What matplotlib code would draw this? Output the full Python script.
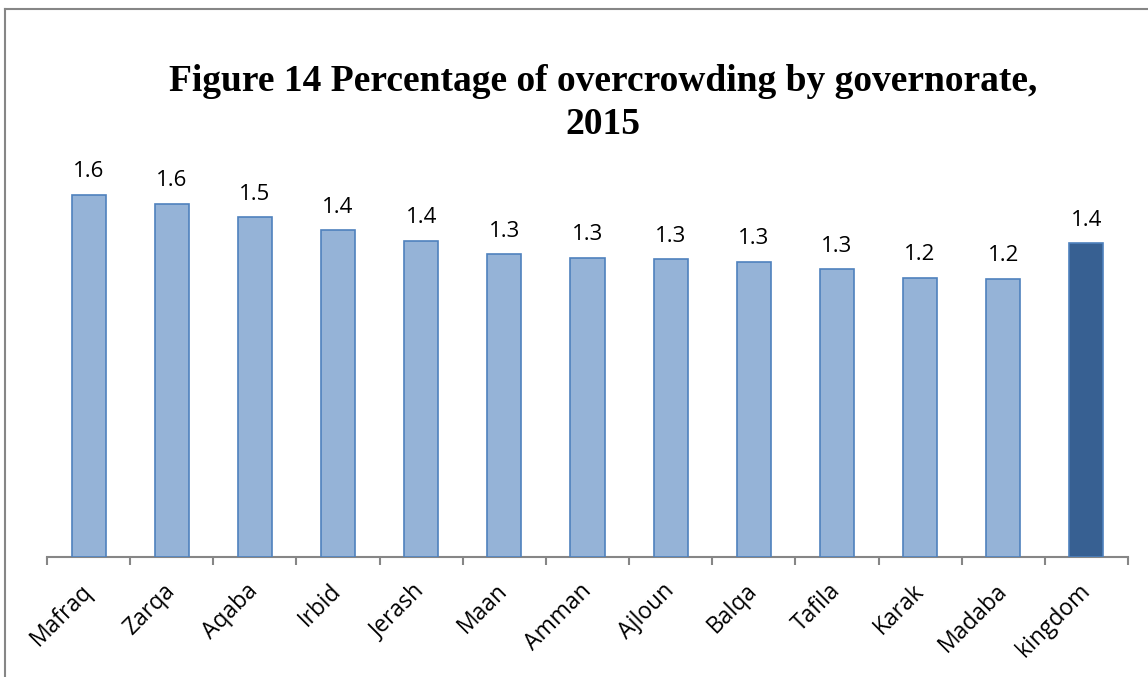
import matplotlib
matplotlib.use("Agg")
import matplotlib.pyplot as plt
from matplotlib.lines import Line2D
import numpy as np

categories = ["Mafraq", "Zarqa", "Aqaba", "Irbid", "Jerash", "Maan", "Amman",
              "Ajloun", "Balqa", "Tafila", "Karak", "Madaba", "kingdom"]
values = [1.586, 1.546, 1.489, 1.432, 1.384, 1.327, 1.310,
          1.305, 1.292, 1.261, 1.222, 1.218, 1.375]
labels = ["1.6", "1.6", "1.5", "1.4", "1.4", "1.3", "1.3",
          "1.3", "1.3", "1.3", "1.2", "1.2", "1.4"]
title = "Figure 14 Percentage of overcrowding by governorate,\n2015"

W, H = 1148, 677
fig = plt.figure(figsize=(W / 100, H / 100), dpi=100)
ax = fig.add_axes([47 / W, 1 - 557 / H, (1128 - 47) / W, (557 - 146) / H])

x = np.arange(len(categories))
fills = ["#95B3D7"] * (len(categories) - 1) + ["#376092"]
edges = ["#4F81BD"] * len(categories)
ax.bar(x, values, width=0.41, color=fills, edgecolor=edges, linewidth=1.2, zorder=3)

for xi, v, lab in zip(x, values, labels):
    ax.annotate(lab, (xi, v), xytext=(0, 9), textcoords="offset points",
                ha="center", va="bottom", fontsize=16, family="Open Sans", color="black")

ax.set_xlim(-0.5, len(categories) - 0.5)
ax.set_ylim(0, 1.8)
ax.set_yticks([])
for s in ["left", "right", "top"]:
    ax.spines[s].set_visible(False)
ax.spines["bottom"].set_color("#868686")
ax.spines["bottom"].set_linewidth(1.5)

ax.set_xticks(x)
ax.set_xticklabels(categories, rotation=45, ha="right", va="center",
                   rotation_mode="anchor", fontsize=16.5, family="Open Sans")
ax.tick_params(axis="x", which="major", length=0, pad=22)
ax.set_xticks(np.arange(-0.5, len(categories)), minor=True)
ax.tick_params(axis="x", which="minor", length=6, width=1.5, color="#868686", direction="out")

fig.text(603 / W, 1 - 64 / H, title, ha="center", va="top", fontsize=27,
         fontweight="bold", family="Liberation Serif", linespacing=1.3)

# outer frame (top and left edges)
fig.add_artist(Line2D([5 / W, 5 / W], [0, 1 - 9 / H], transform=fig.transFigure,
                      color="#868686", linewidth=1.5))
fig.add_artist(Line2D([5 / W, 1], [1 - 9 / H, 1 - 9 / H], transform=fig.transFigure,
                      color="#868686", linewidth=1.5))

fig.savefig("out.png", dpi=100)
